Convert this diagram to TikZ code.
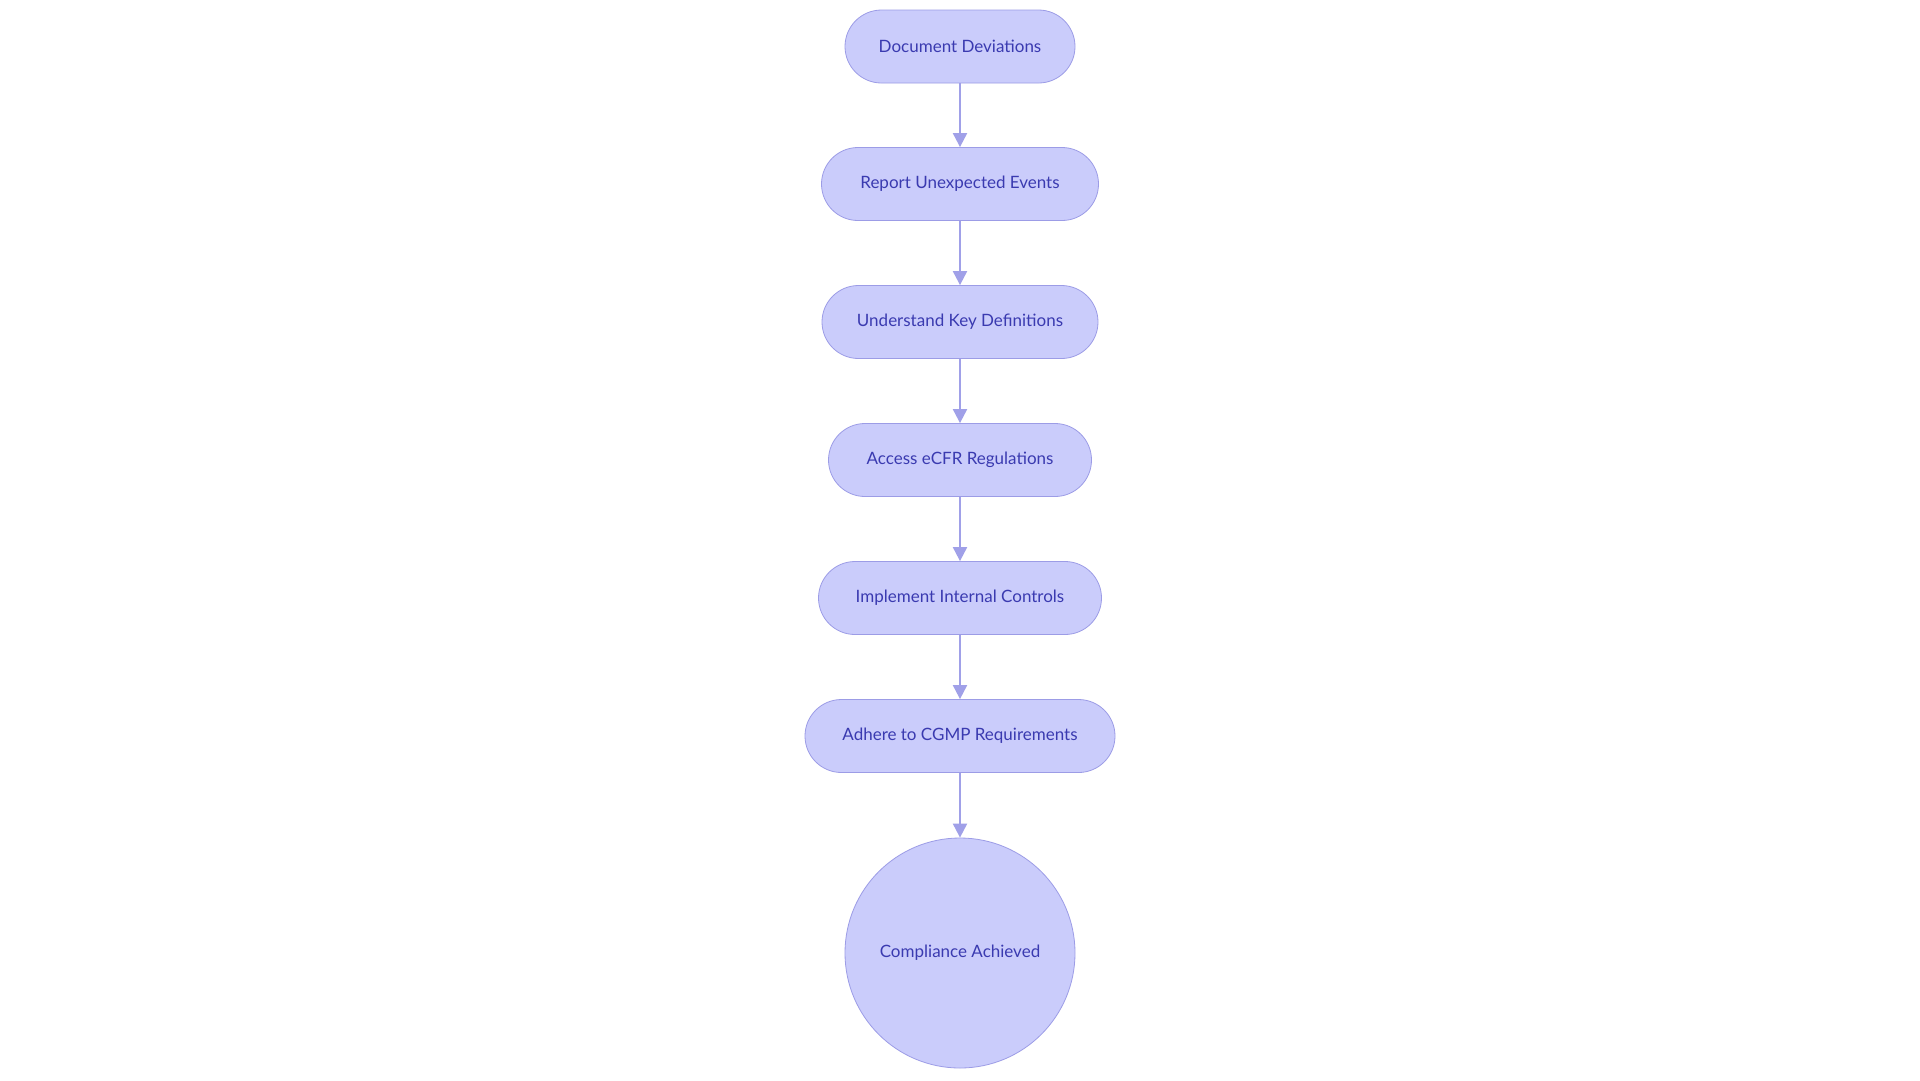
\documentclass[tikz,border=0pt]{standalone}
\usepackage{fontspec}
\setmainfont{Lato}
\usetikzlibrary{arrows.meta}
\definecolor{nfill}{HTML}{CACCFB}
\definecolor{nline}{HTML}{9C9CE6}
\definecolor{ntext}{HTML}{3A3AB0}
\definecolor{arr}{HTML}{A0A0E8}
\tikzset{x=1pt,y=-1pt,
 pill/.style={draw=nline,fill=nfill,rounded corners=36.5pt,minimum height=73pt,text=ntext,font=\fontsize{17}{20}\selectfont,line width=0.8pt},
 circ/.style={draw=nline,fill=nfill,circle,minimum size=230pt,text=ntext,font=\fontsize{17}{20}\selectfont,line width=0.8pt},
 conn/.style={draw=arr,line width=2pt,-{Triangle[length=14pt,width=14pt]}}}
\begin{document}
\begin{tikzpicture}
\useasboundingbox (0,0) rectangle (1920,1080);
\fill[white] (0,0) rectangle (1920,1080);
\node[pill,minimum width=230pt] (a) at (960,46.5) {Document Deviations};
\node[pill,minimum width=277pt] (b) at (960,184) {Report Unexpected Events};
\node[pill,minimum width=276pt] (c) at (960,322) {Understand Key Definitions};
\node[pill,minimum width=263pt] (d) at (960,460) {Access eCFR Regulations};
\node[pill,minimum width=283pt] (e) at (960,598) {Implement Internal Controls};
\node[pill,minimum width=310pt] (f) at (960,736) {Adhere to CGMP Requirements};
\node[circ] (g) at (960,953) {Compliance Achieved};
\foreach \s/\t in {a/b,b/c,c/d,d/e,e/f,f/g} \draw[conn] (\s) -- (\t);
\end{tikzpicture}
\end{document}
